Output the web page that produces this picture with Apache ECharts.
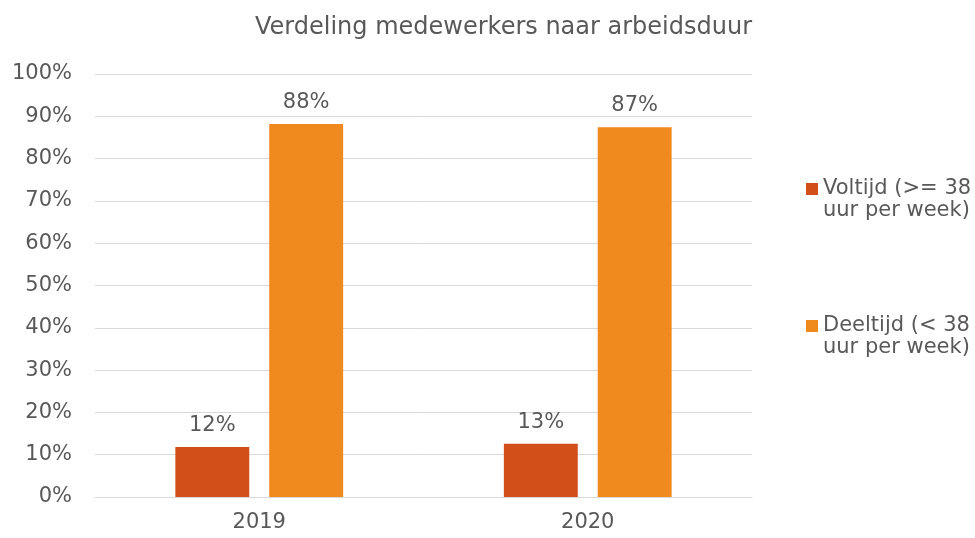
<!DOCTYPE html>
<html>
<head>
<meta charset="utf-8">
<script src="https://cdn.jsdelivr.net/npm/echarts@6/dist/echarts.min.js"></script>
<style>
  html, body { margin: 0; padding: 0; background: #fff; }
  #chart { width: 975px; height: 538px; }
</style>
</head>
<body>
<div id="chart"></div>
<script>
var jaren = ['2019', '2020'];
var voltijd = [11.8, 12.6];
var deeltijd = [88.2, 87.4];
var reeksNamen = ['Voltijd (>= 38 uur per week)', 'Deeltijd (< 38 uur per week)'];

var grijs = '#595959';
var lettertype = '"DejaVu Sans", Verdana, sans-serif';

// vierkantje bovenaan, zodat het op de eerste tekstregel staat
var legendaIcoon = 'path://M0,0L12,0L12,12L0,12Z M12,34';

var chart = echarts.init(document.getElementById('chart'));

chart.setOption({
    textStyle: { fontFamily: lettertype },
    title: {
        text: 'Verdeling medewerkers naar arbeidsduur',
        left: 250,
        top: 11,
        textStyle: { color: grijs, fontSize: 24, fontWeight: 'normal', fontFamily: lettertype }
    },
    legend: {
        orient: 'vertical',
        left: 801,
        top: 173,
        itemWidth: 12,
        itemHeight: 34,
        itemGap: 93,
        icon: legendaIcoon,
        data: reeksNamen,
        formatter: function (name) {
            return name.replace(' uur', '\nuur');
        },
        textStyle: {
            color: grijs,
            fontSize: 21,
            lineHeight: 22,
            fontFamily: lettertype
        }
    },
    grid: {
        left: 95,
        right: 223,
        top: 74,
        bottom: 41
    },
    xAxis: {
        type: 'category',
        data: jaren,
        axisTick: { show: false },
        axisLine: { lineStyle: { color: '#d9d9d9' } },
        axisLabel: { color: grijs, fontSize: 21, margin: 15, fontFamily: lettertype }
    },
    yAxis: {
        type: 'value',
        min: 0,
        max: 100,
        interval: 10,
        axisLabel: { color: grijs, fontSize: 21, margin: 23, formatter: '{value}%', fontFamily: lettertype },
        splitLine: { lineStyle: { color: '#d9d9d9' } }
    },
    series: [
        {
            name: reeksNamen[0],
            type: 'bar',
            data: voltijd,
            barWidth: '22.5%',
            barGap: '27%',
            itemStyle: { color: '#D34F1A' },
            label: {
                show: true,
                position: 'top',
                distance: 11,
                color: grijs,
                fontSize: 21,
                fontFamily: lettertype,
                formatter: function (p) { return Math.round(p.value) + '%'; }
            }
        },
        {
            name: reeksNamen[1],
            type: 'bar',
            data: deeltijd,
            barWidth: '22.5%',
            itemStyle: { color: '#F0891E' },
            label: {
                show: true,
                position: 'top',
                distance: 11,
                color: grijs,
                fontSize: 21,
                fontFamily: lettertype,
                formatter: function (p) { return Math.round(p.value) + '%'; }
            }
        }
    ]
});
</script>
</body>
</html>
